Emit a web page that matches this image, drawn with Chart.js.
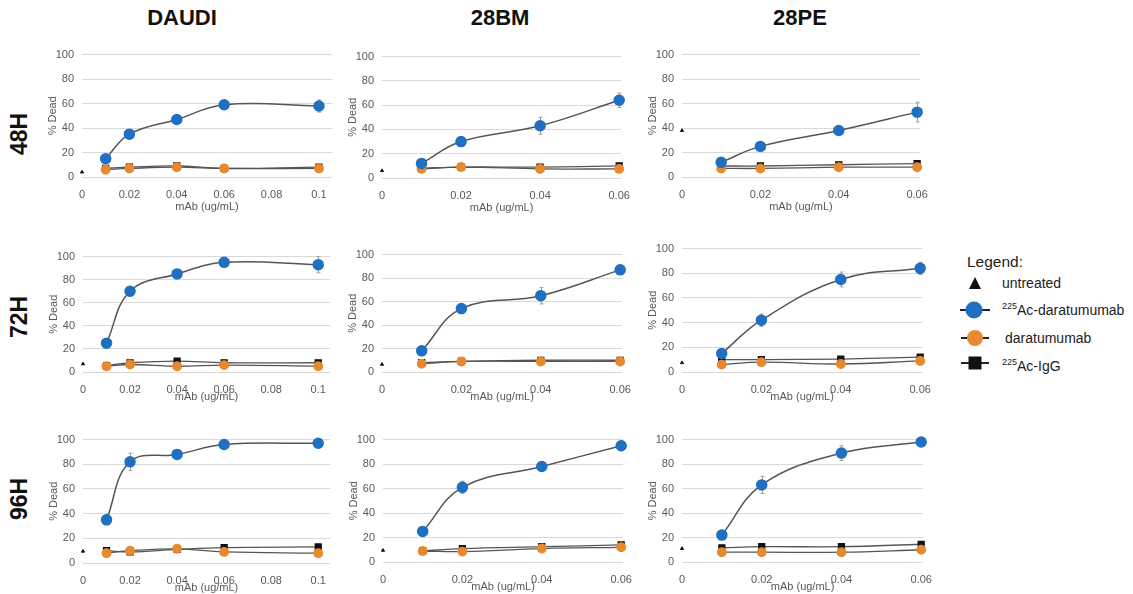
<!DOCTYPE html>
<html>
<head>
<meta charset="utf-8">
<script src="https://cdn.jsdelivr.net/npm/chart.js@4.4.1/dist/chart.umd.min.js"></script>
<style>
    body { margin: 0; background: #fff; font-family: "Liberation Sans", Arial, sans-serif; }
    #page { position: relative; width: 1133px; height: 594px; overflow: hidden; background: #fff; }
    #page canvas { position: absolute; }
    .colTitle { position: absolute; font-weight: bold; font-size: 22px; color: #111; transform: translate(-50%, -50%); white-space: nowrap; }
    .rowTitle { position: absolute; font-weight: bold; font-size: 23px; color: #111; transform: translate(-50%, -50%) rotate(-90deg); white-space: nowrap; }
    .legendTitle { position: absolute; left: 967px; top: 253px; font-size: 15.5px; color: #222; }
    .legendText { position: absolute; font-size: 14px; color: #222; transform: translateY(-50%); white-space: nowrap; }
    .legendText sup { font-size: 9px; vertical-align: 6px; line-height: 0; }
    .legLine { position: absolute; height: 2px; background: #222; }
    .legMark { position: absolute; transform: translate(-50%, -50%); }
</style>
</head>
<body>
<div id="page">
    <div class="colTitle" style="left:182px; top:18px;">DAUDI</div>
    <div class="colTitle" style="left:500px; top:18px;">28BM</div>
    <div class="colTitle" style="left:800px; top:18px;">28PE</div>

    <div class="rowTitle" style="left:19px; top:134px;">48H</div>
    <div class="rowTitle" style="left:19px; top:317px;">72H</div>
    <div class="rowTitle" style="left:19px; top:499px;">96H</div>

    <canvas id="c1"></canvas>
    <canvas id="c2"></canvas>
    <canvas id="c3"></canvas>
    <canvas id="c4"></canvas>
    <canvas id="c5"></canvas>
    <canvas id="c6"></canvas>
    <canvas id="c7"></canvas>
    <canvas id="c8"></canvas>
    <canvas id="c9"></canvas>

    <div class="legendTitle">Legend:</div>
    <div class="legMark" style="left:975px; top:283px; width:0; height:0; border-left:6px solid transparent; border-right:6px solid transparent; border-bottom:12px solid #111;"></div>
    <div class="legendText" style="left:1002px; top:283px;">untreated</div>

    <div class="legLine" style="left:960px; top:309px; width:30px;"></div>
    <div class="legMark" style="left:974px; top:310px; width:17px; height:17px; border-radius:50%; background:#1f70c1;"></div>
    <div class="legendText" style="left:1002px; top:310px;"><sup>225</sup>Ac-daratumumab</div>

    <div class="legLine" style="left:961px; top:337px; width:28px;"></div>
    <div class="legMark" style="left:975px; top:338px; width:16px; height:16px; border-radius:50%; background:#e8892f;"></div>
    <div class="legendText" style="left:1005px; top:338px;">daratumumab</div>

    <div class="legLine" style="left:961px; top:362px; width:28px;"></div>
    <div class="legMark" style="left:975px; top:363px; width:13px; height:13px; background:#111;"></div>
    <div class="legendText" style="left:1002px; top:366px;"><sup>225</sup>Ac-IgG</div>
</div>

<script>
// doses (mAb, ug/mL)
const dosesDaudi = [0.01, 0.02, 0.04, 0.06, 0.1];
const doses28 = [0.01, 0.02, 0.04, 0.06];
const ticksDaudi = [0, 0.02, 0.04, 0.06, 0.08, 0.1];
const ticks28 = [0, 0.02, 0.04, 0.06];
const yTicks = [0, 20, 40, 60, 80, 100];

// % Dead, 48H
const daudi48Ac = [15, 35, 47, 59, 58];
const daudi48AcErr = [2, 3, 2, 3, 5];
const daudi48Dara = [6, 7, 8, 7, 7];
const daudi48IgG = [7, 8, 9, 7, 8];
const daudi48Untreated = 4;

const bm48Ac = [12, 30, 43, 64];
const bm48AcErr = [2, 2, 7, 6];
const bm48Dara = [7.5, 9, 7.5, 7.5];
const bm48IgG = [8, 9, 9, 10];
const bm48Untreated = 6;

const pe48Ac = [12, 25, 38, 53];
const pe48AcErr = [2, 2, 2, 8];
const pe48Dara = [7, 7, 8, 8];
const pe48IgG = [9, 9, 10, 11];
const pe48Untreated = 38;

// % Dead, 72H
const daudi72Ac = [25, 70, 85, 95, 93];
const daudi72AcErr = [2, 4, 2, 3, 7];
const daudi72Dara = [5, 6.5, 5, 6, 5];
const daudi72IgG = [5.5, 8, 9.5, 8, 8];
const daudi72Untreated = 7;

const bm72Ac = [18, 54, 65, 87];
const bm72AcErr = [2, 3, 7, 4];
const bm72Dara = [7, 9, 9, 9];
const bm72IgG = [8, 9, 10, 10];
const bm72Untreated = 6.5;

const pe72Ac = [15, 42, 75, 84];
const pe72AcErr = [3, 5, 6, 5];
const pe72Dara = [6, 8, 6.5, 9];
const pe72IgG = [10, 10, 10.5, 12];
const pe72Untreated = 7.5;

// % Dead, 96H
const daudi96Ac = [35, 82, 88, 96, 97];
const daudi96AcErr = [4, 7, 2, 2, 2];
const daudi96Dara = [8, 10, 11.5, 9, 8];
const daudi96IgG = [10, 9, 11, 12.5, 13];
const daudi96Untreated = 9.5;

const bm96Ac = [25, 61, 78, 95];
const bm96AcErr = [2, 5, 3, 4];
const bm96Dara = [9, 8.5, 11, 12];
const bm96IgG = [9, 11, 12.5, 14];
const bm96Untreated = 9.5;

const pe96Ac = [22, 63, 89, 98];
const pe96AcErr = [2, 7, 6, 2];
const pe96Dara = [8, 8, 8, 10];
const pe96IgG = [11.5, 12.5, 12.5, 14.5];
const pe96Untreated = 11;

const panels = [
    { id: "c1", doses: dosesDaudi, ticks: ticksDaudi, xMax: 0.1055, ac: daudi48Ac, acErr: daudi48AcErr, dara: daudi48Dara, igg: daudi48IgG, untreated: daudi48Untreated },
    { id: "c2", doses: doses28, ticks: ticks28, xMax: 0.0605, ac: bm48Ac, acErr: bm48AcErr, dara: bm48Dara, igg: bm48IgG, untreated: bm48Untreated },
    { id: "c3", doses: doses28, ticks: ticks28, xMax: 0.0607, ac: pe48Ac, acErr: pe48AcErr, dara: pe48Dara, igg: pe48IgG, untreated: pe48Untreated },
    { id: "c4", doses: dosesDaudi, ticks: ticksDaudi, xMax: 0.105, ac: daudi72Ac, acErr: daudi72AcErr, dara: daudi72Dara, igg: daudi72IgG, untreated: daudi72Untreated },
    { id: "c5", doses: doses28, ticks: ticks28, xMax: 0.0605, ac: bm72Ac, acErr: bm72AcErr, dara: bm72Dara, igg: bm72IgG, untreated: bm72Untreated },
    { id: "c6", doses: doses28, ticks: ticks28, xMax: 0.0605, ac: pe72Ac, acErr: pe72AcErr, dara: pe72Dara, igg: pe72IgG, untreated: pe72Untreated },
    { id: "c7", doses: dosesDaudi, ticks: ticksDaudi, xMax: 0.105, ac: daudi96Ac, acErr: daudi96AcErr, dara: daudi96Dara, igg: daudi96IgG, untreated: daudi96Untreated },
    { id: "c8", doses: doses28, ticks: ticks28, xMax: 0.0605, ac: bm96Ac, acErr: bm96AcErr, dara: bm96Dara, igg: bm96IgG, untreated: bm96Untreated },
    { id: "c9", doses: doses28, ticks: ticks28, xMax: 0.0605, ac: pe96Ac, acErr: pe96AcErr, dara: pe96Dara, igg: pe96IgG, untreated: pe96Untreated }
];

// plot area of each panel on the page (left, right, top = 100 line, bottom = 0 line)
const boxes = [
    { x0: 82, x1: 332, top: 50, bottom: 177, xh: 37 },
    { x0: 382, x1: 627, top: 52, bottom: 178, xh: 37 },
    { x0: 682, x1: 925, top: 50, bottom: 177, xh: 37 },
    { x0: 83, x1: 330, top: 252, bottom: 372, xh: 32 },
    { x0: 382, x1: 628, top: 250, bottom: 372, xh: 32 },
    { x0: 682, x1: 928, top: 244, bottom: 372, xh: 32 },
    { x0: 83, x1: 330, top: 435, bottom: 563, xh: 32 },
    { x0: 383, x1: 629, top: 435, bottom: 562, xh: 32 },
    { x0: 682, x1: 929, top: 435, bottom: 562, xh: 32 }
];

const YW = 36;
const PAD_TOP = 10;
const PAD_RIGHT = 14;

const lineColor = "#555555";
const blue = "#1f70c1";
const orange = "#e8892f";
const black = "#111111";

function toPoints(doses, values) {
    return doses.map((d, i) => ({ x: d, y: values[i] }));
}

// thin grey error bars under the 225Ac-daratumumab markers
const errorBars = {
    id: "errorBars",
    beforeDatasetsDraw(chart, args, opts) {
        const err = opts.values;
        if (!err) return;
        const ctx = chart.ctx;
        const yScale = chart.scales.y;
        const ds = chart.data.datasets[0];
        const meta = chart.getDatasetMeta(0);
        ctx.save();
        ctx.strokeStyle = "#a0a0a0";
        ctx.lineWidth = 1;
        meta.data.forEach((pt, i) => {
            const v = ds.data[i].y;
            const yTop = yScale.getPixelForValue(v + err[i]);
            const yBot = yScale.getPixelForValue(v - err[i]);
            const x = Math.round(pt.x) + 0.5;
            ctx.beginPath();
            ctx.moveTo(x, yTop);
            ctx.lineTo(x, yBot);
            ctx.moveTo(x - 2, yTop);
            ctx.lineTo(x + 2, yTop);
            ctx.moveTo(x - 2, yBot);
            ctx.lineTo(x + 2, yBot);
            ctx.stroke();
        });
        ctx.restore();
    }
};

panels.forEach((p, i) => {
    const b = boxes[i];
    const canvas = document.getElementById(p.id);
    canvas.width = b.x1 - b.x0 + YW + PAD_RIGHT;
    canvas.height = b.bottom - b.top + PAD_TOP + b.xh;
    canvas.style.left = (b.x0 - YW) + "px";
    canvas.style.top = (b.top - PAD_TOP) + "px";

    new Chart(canvas.getContext("2d"), {
        type: "line",
        plugins: [errorBars],
        data: {
            datasets: [
                {
                    label: "225Ac-daratumumab",
                    data: toPoints(p.doses, p.ac),
                    borderColor: lineColor,
                    borderWidth: 1.5,
                    backgroundColor: blue,
                    pointBackgroundColor: blue,
                    pointBorderColor: blue,
                    pointRadius: 5,
                    tension: 0.4,
                    clip: false
                },
                {
                    label: "daratumumab",
                    data: toPoints(p.doses, p.dara),
                    borderColor: lineColor,
                    borderWidth: 1.3,
                    pointBackgroundColor: orange,
                    pointBorderColor: orange,
                    pointRadius: 4.3,
                    tension: 0.4,
                    clip: false
                },
                {
                    label: "225Ac-IgG",
                    data: toPoints(p.doses, p.igg),
                    borderColor: lineColor,
                    borderWidth: 1.3,
                    pointStyle: "rect",
                    pointBackgroundColor: black,
                    pointBorderColor: black,
                    pointRadius: 4.2,
                    tension: 0.4,
                    clip: false
                },
                {
                    label: "untreated",
                    data: [{ x: 0, y: p.untreated }],
                    showLine: false,
                    pointStyle: "triangle",
                    pointBackgroundColor: black,
                    pointBorderColor: black,
                    pointRadius: 1.8,
                    clip: false
                }
            ]
        },
        options: {
            responsive: false,
            animation: false,
            events: [],
            layout: { padding: { top: PAD_TOP, right: PAD_RIGHT, left: 0, bottom: 0 } },
            plugins: {
                legend: { display: false },
                tooltip: { enabled: false },
                errorBars: { values: p.acErr }
            },
            scales: {
                x: {
                    type: "linear",
                    min: 0,
                    max: p.xMax,
                    afterFit: axis => { axis.height = b.xh; },
                    afterBuildTicks: axis => { axis.ticks = p.ticks.map(v => ({ value: v })); },
                    grid: { display: false, drawTicks: false },
                    border: { display: false },
                    ticks: {
                        autoSkip: false,
                        maxRotation: 0,
                        padding: 11,
                        color: "#595959",
                        font: { family: "Liberation Sans", size: 11 },
                        callback: v => String(+v.toFixed(2))
                    },
                    title: {
                        display: true,
                        text: "mAb (ug/mL)",
                        color: "#595959",
                        padding: 0,
                        font: { family: "Liberation Sans", size: 11 }
                    }
                },
                y: {
                    min: 0,
                    max: 100,
                    afterFit: axis => { axis.width = YW; },
                    afterBuildTicks: axis => { axis.ticks = yTicks.map(v => ({ value: v })); },
                    grid: { color: "#d9d9d9", lineWidth: 1, drawTicks: false },
                    border: { display: false },
                    ticks: {
                        padding: 8,
                        color: "#595959",
                        font: { family: "Liberation Sans", size: 11 }
                    },
                    title: {
                        display: true,
                        text: "% Dead",
                        color: "#595959",
                        padding: 0,
                        font: { family: "Liberation Sans", size: 11 }
                    }
                }
            }
        }
    });
});
</script>
</body>
</html>
